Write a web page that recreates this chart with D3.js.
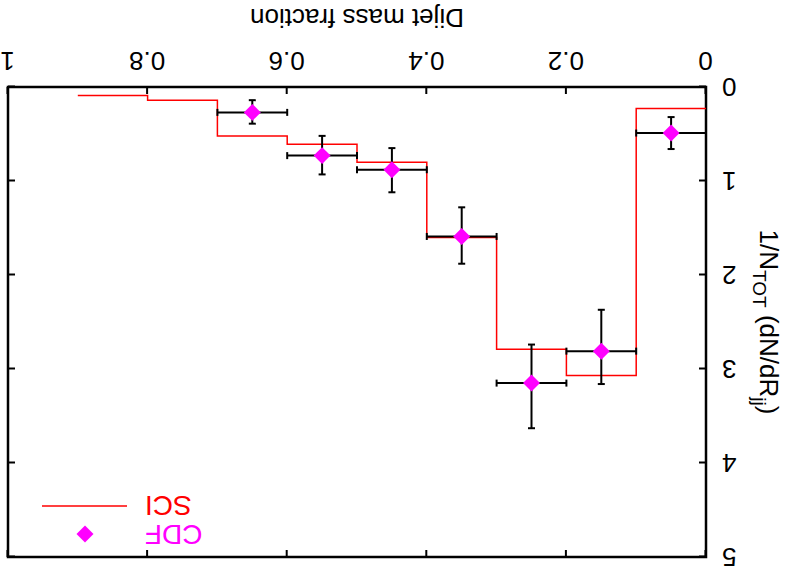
<!DOCTYPE html>
<html>
<head>
<meta charset="utf-8">
<script src="https://cdn.jsdelivr.net/npm/d3@7"></script>
<style>
  body { margin: 0; background: #fff; }
  text { font-family: "Liberation Sans", Arial, sans-serif; }
</style>
</head>
<body>
<svg id="chart" width="788" height="573"></svg>
<script>
// SCI histogram, bins of width 0.1 starting at 0
var sciEdges = [0, 0.1, 0.2, 0.3, 0.4, 0.5, 0.6, 0.7, 0.8, 0.9];
var sciValues = [0.23, 3.07, 2.79, 1.60, 0.80, 0.61, 0.52, 0.14, 0.09];

// CDF points with asymmetric y errors
var cdfX = [0.05, 0.15, 0.25, 0.35, 0.45, 0.55, 0.65];
var cdfY = [0.49, 2.81, 3.15, 1.59, 0.88, 0.73, 0.27];
var cdfErrLo = [0.17, 0.44, 0.41, 0.31, 0.23, 0.21, 0.13];
var cdfErrHi = [0.17, 0.35, 0.48, 0.29, 0.24, 0.20, 0.12];
var cdfXErr = 0.05;

var xTicks = [0, 0.2, 0.4, 0.6, 0.8, 1];
var xTickLabels = ["0", "0.2", "0.4", "0.6", "0.8", "1"];
var yTicks = [0, 1, 2, 3, 4, 5];

var W = 788, H = 573;
var margin = {left: 82, right: 8, top: 16, bottom: 87};

var svg = d3.select("#chart");
// the whole picture is drawn upside down
var g = svg.append("g")
    .attr("transform", "rotate(180," + W / 2 + "," + H / 2 + ")");

var x = d3.scaleLinear().domain([0, 1]).range([margin.left, W - margin.right]);
var y = d3.scaleLinear().domain([0, 5]).range([H - margin.bottom, margin.top]);

var tickLen = 7;
var font = 26;

function styleTicks(a) {
  a.select(".domain").remove();
  a.selectAll("line").attr("stroke", "#000").attr("stroke-width", 2);
  a.selectAll("text").attr("font-size", font).attr("fill", "#000")
      .attr("font-family", "Liberation Sans, Arial, sans-serif");
}

// x axis bottom + mirrored top, ticks inside
g.append("g")
    .attr("transform", "translate(0," + y(0) + ")")
    .call(d3.axisBottom(x).tickValues(xTicks).tickSize(-tickLen).tickPadding(17)
        .tickFormat(function(d, i) { return xTickLabels[i]; }))
    .call(styleTicks);
g.append("g")
    .attr("transform", "translate(0," + y(5) + ")")
    .call(d3.axisTop(x).tickValues(xTicks).tickSize(-tickLen).tickFormat(""))
    .call(styleTicks);

// y axis left + mirrored right
g.append("g")
    .attr("transform", "translate(" + x(0) + ",0)")
    .call(d3.axisLeft(y).tickValues(yTicks).tickSize(-tickLen).tickPadding(16)
        .tickFormat(d3.format("d")))
    .call(styleTicks);
g.append("g")
    .attr("transform", "translate(" + x(1) + ",0)")
    .call(d3.axisRight(y).tickValues(yTicks).tickSize(-tickLen).tickFormat(""))
    .call(styleTicks);

// frame
g.append("rect")
    .attr("x", x(0)).attr("y", y(5))
    .attr("width", x(1) - x(0)).attr("height", y(0) - y(5))
    .attr("fill", "none").attr("stroke", "#000").attr("stroke-width", 2.5);

// SCI step line
var steps = [];
sciValues.forEach(function(v, i) {
  steps.push([sciEdges[i], v]);
  steps.push([sciEdges[i] + 0.1, v]);
});
g.append("path")
    .attr("d", d3.line().x(function(d) { return x(d[0]); }).y(function(d) { return y(d[1]); })(steps))
    .attr("fill", "none").attr("stroke", "#ff0000").attr("stroke-width", 1.5);

// CDF error bars
var cap = 3.5;
var eb = g.append("g").attr("stroke", "#000").attr("stroke-width", 2);
cdfX.forEach(function(cx, i) {
  var px = x(cx), py = y(cdfY[i]);
  var x0 = x(cx - cdfXErr), x1 = x(cx + cdfXErr);
  var y0 = y(cdfY[i] - cdfErrLo[i]), y1 = y(cdfY[i] + cdfErrHi[i]);
  eb.append("line").attr("x1", x0).attr("x2", x1).attr("y1", py).attr("y2", py);
  eb.append("line").attr("x1", x0).attr("x2", x0).attr("y1", py - cap).attr("y2", py + cap);
  eb.append("line").attr("x1", x1).attr("x2", x1).attr("y1", py - cap).attr("y2", py + cap);
  eb.append("line").attr("x1", px).attr("x2", px).attr("y1", y0).attr("y2", y1);
  eb.append("line").attr("x1", px - cap).attr("x2", px + cap).attr("y1", y0).attr("y2", y0);
  eb.append("line").attr("x1", px - cap).attr("x2", px + cap).attr("y1", y1).attr("y2", y1);
});

var diamond = d3.symbol().type(d3.symbolSquare).size(144);
g.selectAll(".pt")
    .data(cdfX)
    .enter().append("path")
      .attr("class", "pt")
      .attr("d", diamond)
      .attr("transform", function(d, i) { return "translate(" + x(d) + "," + y(cdfY[i]) + ") rotate(45)"; })
      .attr("fill", "#ff00ff");

// axis titles
g.append("text")
    .attr("x", (x(0) + x(1)) / 2).attr("y", H - 9)
    .attr("text-anchor", "middle").attr("font-size", font)
    .text("Dijet mass fraction");

var yl = g.append("text")
    .attr("transform", "translate(28," + (y(0) + y(5)) / 2 + ") rotate(-90)")
    .attr("text-anchor", "middle").attr("font-size", font);
yl.append("tspan").text("1/N");
yl.append("tspan").attr("dy", 7).attr("font-size", 19).text("TOT");
yl.append("tspan").attr("dy", -7).text(" (dN/dR");
yl.append("tspan").attr("dy", 7).attr("font-size", 19).text("jj");
yl.append("tspan").attr("dy", -7).text(")");

// legend
var lg = g.append("g");
lg.append("text").attr("x", 643).attr("y", 48).attr("text-anchor", "end")
    .attr("font-size", 28).attr("fill", "#ff00ff").text("CDF");
lg.append("path").attr("d", diamond)
    .attr("transform", "translate(703,39) rotate(45)").attr("fill", "#ff00ff");
lg.append("text").attr("x", 643).attr("y", 77).attr("text-anchor", "end")
    .attr("font-size", 28).attr("fill", "#ff0000").text("SCI");
lg.append("line").attr("x1", 661).attr("x2", 746).attr("y1", 67).attr("y2", 67)
    .attr("stroke", "#ff0000").attr("stroke-width", 1.5);
</script>
</body>
</html>
